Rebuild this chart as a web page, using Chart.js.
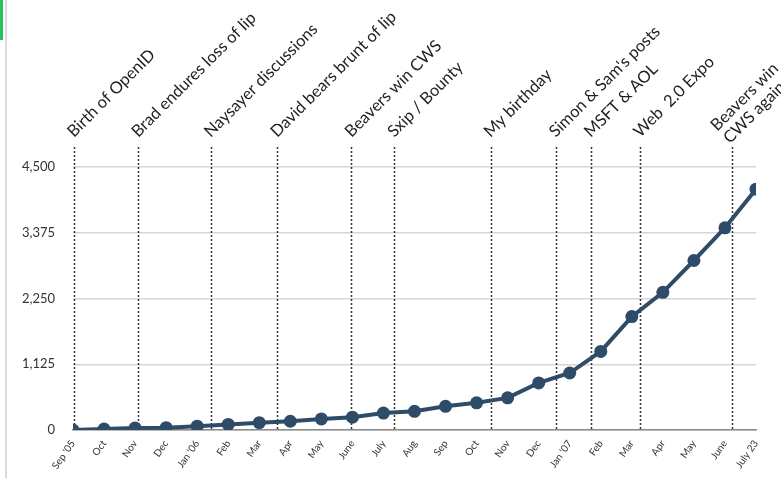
<!DOCTYPE html>
<html>
<head>
<meta charset="utf-8">
<script src="https://cdn.jsdelivr.net/npm/chart.js@4/dist/chart.umd.min.js"></script>
<style>
  html, body { margin: 0; padding: 0; background: #fff; }
  #wrap { position: relative; width: 781px; height: 478px; overflow: hidden; }
  #edge { position: absolute; left: 0; top: 0; width: 3px; height: 40px; background: #22c35e; }
  #rule { position: absolute; left: 5px; top: 0; width: 2px; height: 478px; background: #d9d9d9; }
  canvas { position: absolute; left: 0; top: 0; }
</style>
</head>
<body>
<div id="wrap">
  <canvas id="chart" width="781" height="478"></canvas>
  <div id="edge"></div>
  <div id="rule"></div>
</div>
<script>
// Monthly categories along the x axis
const monthLabels = ["Sep '05", "Oct", "Nov", "Dec", "Jan '06", "Feb", "Mar", "Apr", "May", "June", "July",
  "Aug", "Sep", "Oct", "Nov", "Dec", "Jan '07", "Feb", "Mar", "Apr", "May", "June", "July 23"];

// Cumulative count per month
const siteCounts = [0, 15, 35, 40, 65, 95, 125, 150, 190, 220, 290, 320, 405, 465, 550, 805,
  975, 1345, 1940, 2355, 2900, 3460, 4120];

// Value axis ticks
const yTicks = [0, 1125, 2250, 3375, 4500];

// Milestones: label lines and their position in months since Sep '05
const eventNames = [
  ["Birth of OpenID"],
  ["Brad endures loss of lip"],
  ["Naysayer discussions"],
  ["David bears brunt of lip"],
  ["Beavers win CWS"],
  ["Sxip / Bounty"],
  ["My birthday"],
  ["Simon & Sam's posts"],
  ["MSFT & AOL"],
  ["Web  2.0 Expo"],
  ["Beavers win", "CWS again"]
];
const eventMonths = [0.03, 2.1, 4.44, 6.58, 8.97, 10.35, 13.45, 15.55, 16.68, 18.27, 21.23];

const INK = '#2e4b67';
Chart.defaults.font.family = 'Lato, "Open Sans", sans-serif';

// Dotted milestone markers behind the series, rotated captions above the plot
const milestones = {
  id: 'milestones',
  beforeDatasetsDraw(chart) {
    const { ctx, chartArea, scales: { x } } = chart;
    ctx.save();
    ctx.strokeStyle = '#333';
    ctx.lineWidth = 1.5;
    ctx.setLineDash([2, 2]);
    eventMonths.forEach(m => {
      const px = Math.round(x.getPixelForValue(m)) + 0.5;
      ctx.beginPath();
      ctx.moveTo(px, 147);
      ctx.lineTo(px, chartArea.bottom);
      ctx.stroke();
    });
    ctx.restore();
  },
  afterDraw(chart) {
    const { ctx, scales: { x } } = chart;
    ctx.save();
    ctx.fillStyle = '#222';
    ctx.font = '16.5px Lato, "Open Sans", sans-serif';
    ctx.textAlign = 'left';
    ctx.textBaseline = 'alphabetic';
    const lh = 18;
    eventMonths.forEach((m, i) => {
      const px = x.getPixelForValue(m);
      const lines = eventNames[i];
      ctx.save();
      ctx.translate(px, 138);
      ctx.rotate(-Math.PI / 4);
      lines.forEach((t, j) => {
        const off = (j - (lines.length - 1)) * lh;
        ctx.fillText(t, lines.length > 1 ? -6 : 0, off + (lines.length > 1 ? 3 : 0));
      });
      ctx.restore();
    });
    ctx.restore();
  }
};

new Chart(document.getElementById('chart'), {
  type: 'line',
  data: {
    datasets: [{
      data: siteCounts.map((v, i) => ({ x: i, y: v })),
      borderColor: INK,
      backgroundColor: INK,
      borderWidth: 4,
      pointRadius: 6.5,
      pointBackgroundColor: INK,
      pointBorderColor: INK,
      pointBorderWidth: 0,
      tension: 0
    }]
  },
  options: {
    responsive: false,
    devicePixelRatio: 1,
    animation: false,
    layout: { padding: { top: 167, right: 25, left: 0, bottom: 0 } },
    plugins: { legend: { display: false }, tooltip: { enabled: false } },
    scales: {
      x: {
        type: 'linear',
        min: 0,
        max: monthLabels.length - 1,
        afterBuildTicks(scale) { scale.ticks = monthLabels.map((_, i) => ({ value: i })); },
        afterFit(scale) { scale.height = 48; },
        ticks: {
          autoSkip: false,
          minRotation: 55,
          maxRotation: 55,
          padding: 8,
          color: '#333',
          font: { size: 10 },
          callback: v => monthLabels[v]
        },
        grid: { display: false, drawTicks: false, tickLength: 4 },
        border: { display: true, color: '#8a8a8a', width: 1.5 }
      },
      y: {
        min: 0,
        max: 4500,
        afterBuildTicks(scale) { scale.ticks = yTicks.map(v => ({ value: v })); },
        afterFit(scale) { scale.width = 73; },
        ticks: {
          padding: 18,
          color: '#333',
          font: { size: 13 },
          callback: v => v.toLocaleString('en-US')
        },
        grid: { color: '#d6d6d6', lineWidth: 1.5, drawTicks: false, tickLength: 0 },
        border: { display: false }
      }
    }
  },
  plugins: [milestones]
});
</script>
</body>
</html>
